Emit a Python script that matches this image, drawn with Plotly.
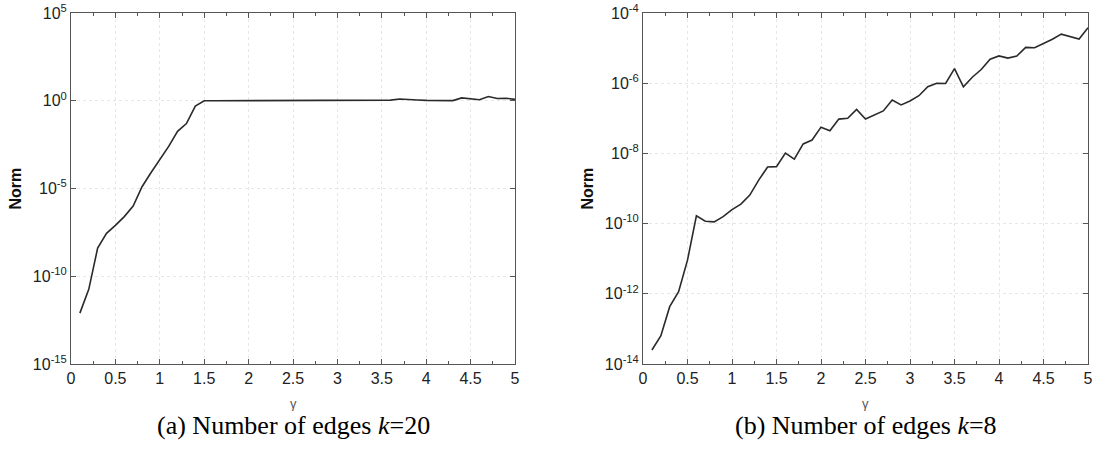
import plotly.graph_objects as go

gamma = [0.1, 0.2, 0.3, 0.4, 0.5, 0.6, 0.7, 0.8, 0.9, 1.0,
         1.1, 1.2, 1.3, 1.4, 1.5, 1.6, 1.7, 1.8, 1.9, 2.0,
         2.1, 2.2, 2.3, 2.4, 2.5, 2.6, 2.7, 2.8, 2.9, 3.0,
         3.1, 3.2, 3.3, 3.4, 3.5, 3.6, 3.7, 3.8, 3.9, 4.0,
         4.1, 4.2, 4.3, 4.4, 4.5, 4.6, 4.7, 4.8, 4.9, 5.0]

norm_k20 = [7.9e-13, 1.8e-11, 4.0e-9, 2.8e-8, 7.9e-8, 2.5e-7, 1.0e-6, 1.26e-5, 7.9e-5, 4.5e-4,
            2.5e-3, 1.8e-2, 5.0e-2, 0.5, 1.0, 1.0, 1.0, 1.0, 1.0, 1.0,
            1.0, 1.03, 1.0, 1.0, 1.0, 1.0, 1.0, 1.0, 1.0, 1.0,
            1.01, 1.02, 1.02, 1.03, 1.05, 1.08, 1.25, 1.12, 1.1, 1.05,
            1.04, 1.03, 1.02, 1.45, 1.25, 1.15, 1.75, 1.35, 1.4, 1.2]

norm_k8 = [2.5e-14, 6.3e-14, 4.3e-13, 1.15e-12, 9.1e-12, 1.66e-10, 1.17e-10, 1.12e-10, 1.58e-10, 2.5e-10,
           3.6e-10, 6.5e-10, 1.74e-9, 4.1e-9, 4.2e-9, 1.02e-8, 6.9e-9, 1.86e-8, 2.4e-8, 5.6e-8,
           4.4e-8, 9.5e-8, 1.0e-7, 1.8e-7, 9.5e-8, 1.23e-7, 1.62e-7, 3.3e-7, 2.4e-7, 3.1e-7,
           4.4e-7, 7.9e-7, 1.0e-6, 9.8e-7, 2.6e-6, 7.9e-7, 1.48e-6, 2.45e-6, 4.8e-6, 6.0e-6,
           5.2e-6, 5.9e-6, 1.05e-5, 1.02e-5, 1.35e-5, 1.78e-5, 2.5e-5, 2.1e-5, 1.82e-5, 3.8e-5]

ytick_a_vals = [1e-15, 1e-10, 1e-5, 1e0, 1e5]
ytick_a_text = ["10<sup>-15</sup>", "10<sup>-10</sup>", "10<sup>-5</sup>", "10<sup>0</sup>", "10<sup>5</sup>"]
ytick_b_vals = [1e-14, 1e-12, 1e-10, 1e-8, 1e-6, 1e-4]
ytick_b_text = ["10<sup>-14</sup>", "10<sup>-12</sup>", "10<sup>-10</sup>", "10<sup>-8</sup>",
                "10<sup>-6</sup>", "10<sup>-4</sup>"]

captions = ["(a) Number of edges <i>k</i>=20", "(b) Number of edges <i>k</i>=8"]

W, H = 1097, 453


def px(v):
    return v / W


dom_a = [px(71), px(515)]
dom_b = [px(643), px(1088)]
dom_y = [1 - 364 / H, 1 - 13 / H]

sans = "Arial, Liberation Sans, sans-serif"
serif = "Times New Roman, Liberation Serif, serif"
line_col = "#2a2a2a"
axis_col = "#555555"
grid_col = "#e6e6e6"

fig = go.Figure()
fig.add_trace(go.Scatter(x=gamma, y=norm_k20, mode="lines", xaxis="x", yaxis="y",
                         line=dict(color=line_col, width=1.6), showlegend=False, hoverinfo="skip"))
fig.add_trace(go.Scatter(x=gamma, y=norm_k8, mode="lines", xaxis="x2", yaxis="y2",
                         line=dict(color=line_col, width=1.6), showlegend=False, hoverinfo="skip"))

xcommon = dict(range=[0, 5], dtick=0.5, tick0=0, ticks="inside", ticklen=5, tickcolor=axis_col,
               showline=True, linecolor=axis_col, linewidth=1, mirror="ticks", automargin=False,
               showgrid=True, gridcolor=grid_col, griddash="dot", gridwidth=1,
               zeroline=False, tickfont=dict(family=sans, size=16, color="#222"),
               minor=dict(dtick=0.25, tick0=0, ticks="inside", ticklen=3, tickcolor=axis_col, showgrid=False))
ycommon = dict(type="log", ticks="inside", ticklen=5, tickcolor=axis_col, automargin=False,
               showline=True, linecolor=axis_col, linewidth=1, mirror="ticks",
               showgrid=True, gridcolor=grid_col, griddash="dot", gridwidth=1,
               zeroline=False, tickfont=dict(family=sans, size=16, color="#222"))

fig.update_layout(
    width=W, height=H,
    margin=dict(l=0, r=0, t=0, b=0, autoexpand=False),
    paper_bgcolor="white", plot_bgcolor="white",
    xaxis=dict(domain=dom_a, anchor="y", **xcommon),
    yaxis=dict(domain=dom_y, anchor="x", range=[-15, 5], tickvals=ytick_a_vals,
               ticktext=ytick_a_text, **ycommon),
    xaxis2=dict(domain=dom_b, anchor="y2", **xcommon),
    yaxis2=dict(domain=dom_y, anchor="x2", range=[-14, -4], tickvals=ytick_b_vals,
                ticktext=ytick_b_text, **ycommon),
)

anns = []
for dom, cap, ytx in [(dom_a, captions[0], px(15)), (dom_b, captions[1], px(587))]:
    cx = (dom[0] + dom[1]) / 2
    anns.append(dict(text="γ", x=cx, y=1 - 403 / H, xref="paper", yref="paper",
                     showarrow=False, font=dict(family=sans, size=13, color="#555"),
                     xanchor="center", yanchor="middle"))
    anns.append(dict(text=cap, x=cx, y=1 - 425 / H, xref="paper", yref="paper",
                     showarrow=False, font=dict(family=serif, size=26, color="black"),
                     xanchor="center", yanchor="middle"))
    anns.append(dict(text="<b>Norm</b>", x=ytx, y=(dom_y[0] + dom_y[1]) / 2, xref="paper", yref="paper",
                     showarrow=False, textangle=-90, font=dict(family=sans, size=16, color="#111"),
                     xanchor="center", yanchor="middle"))
fig.update_layout(annotations=anns)

fig.write_html("out.html", config={"displayModeBar": False},
               post_script="document.body.style.margin='0';document.body.style.overflow='hidden';")
